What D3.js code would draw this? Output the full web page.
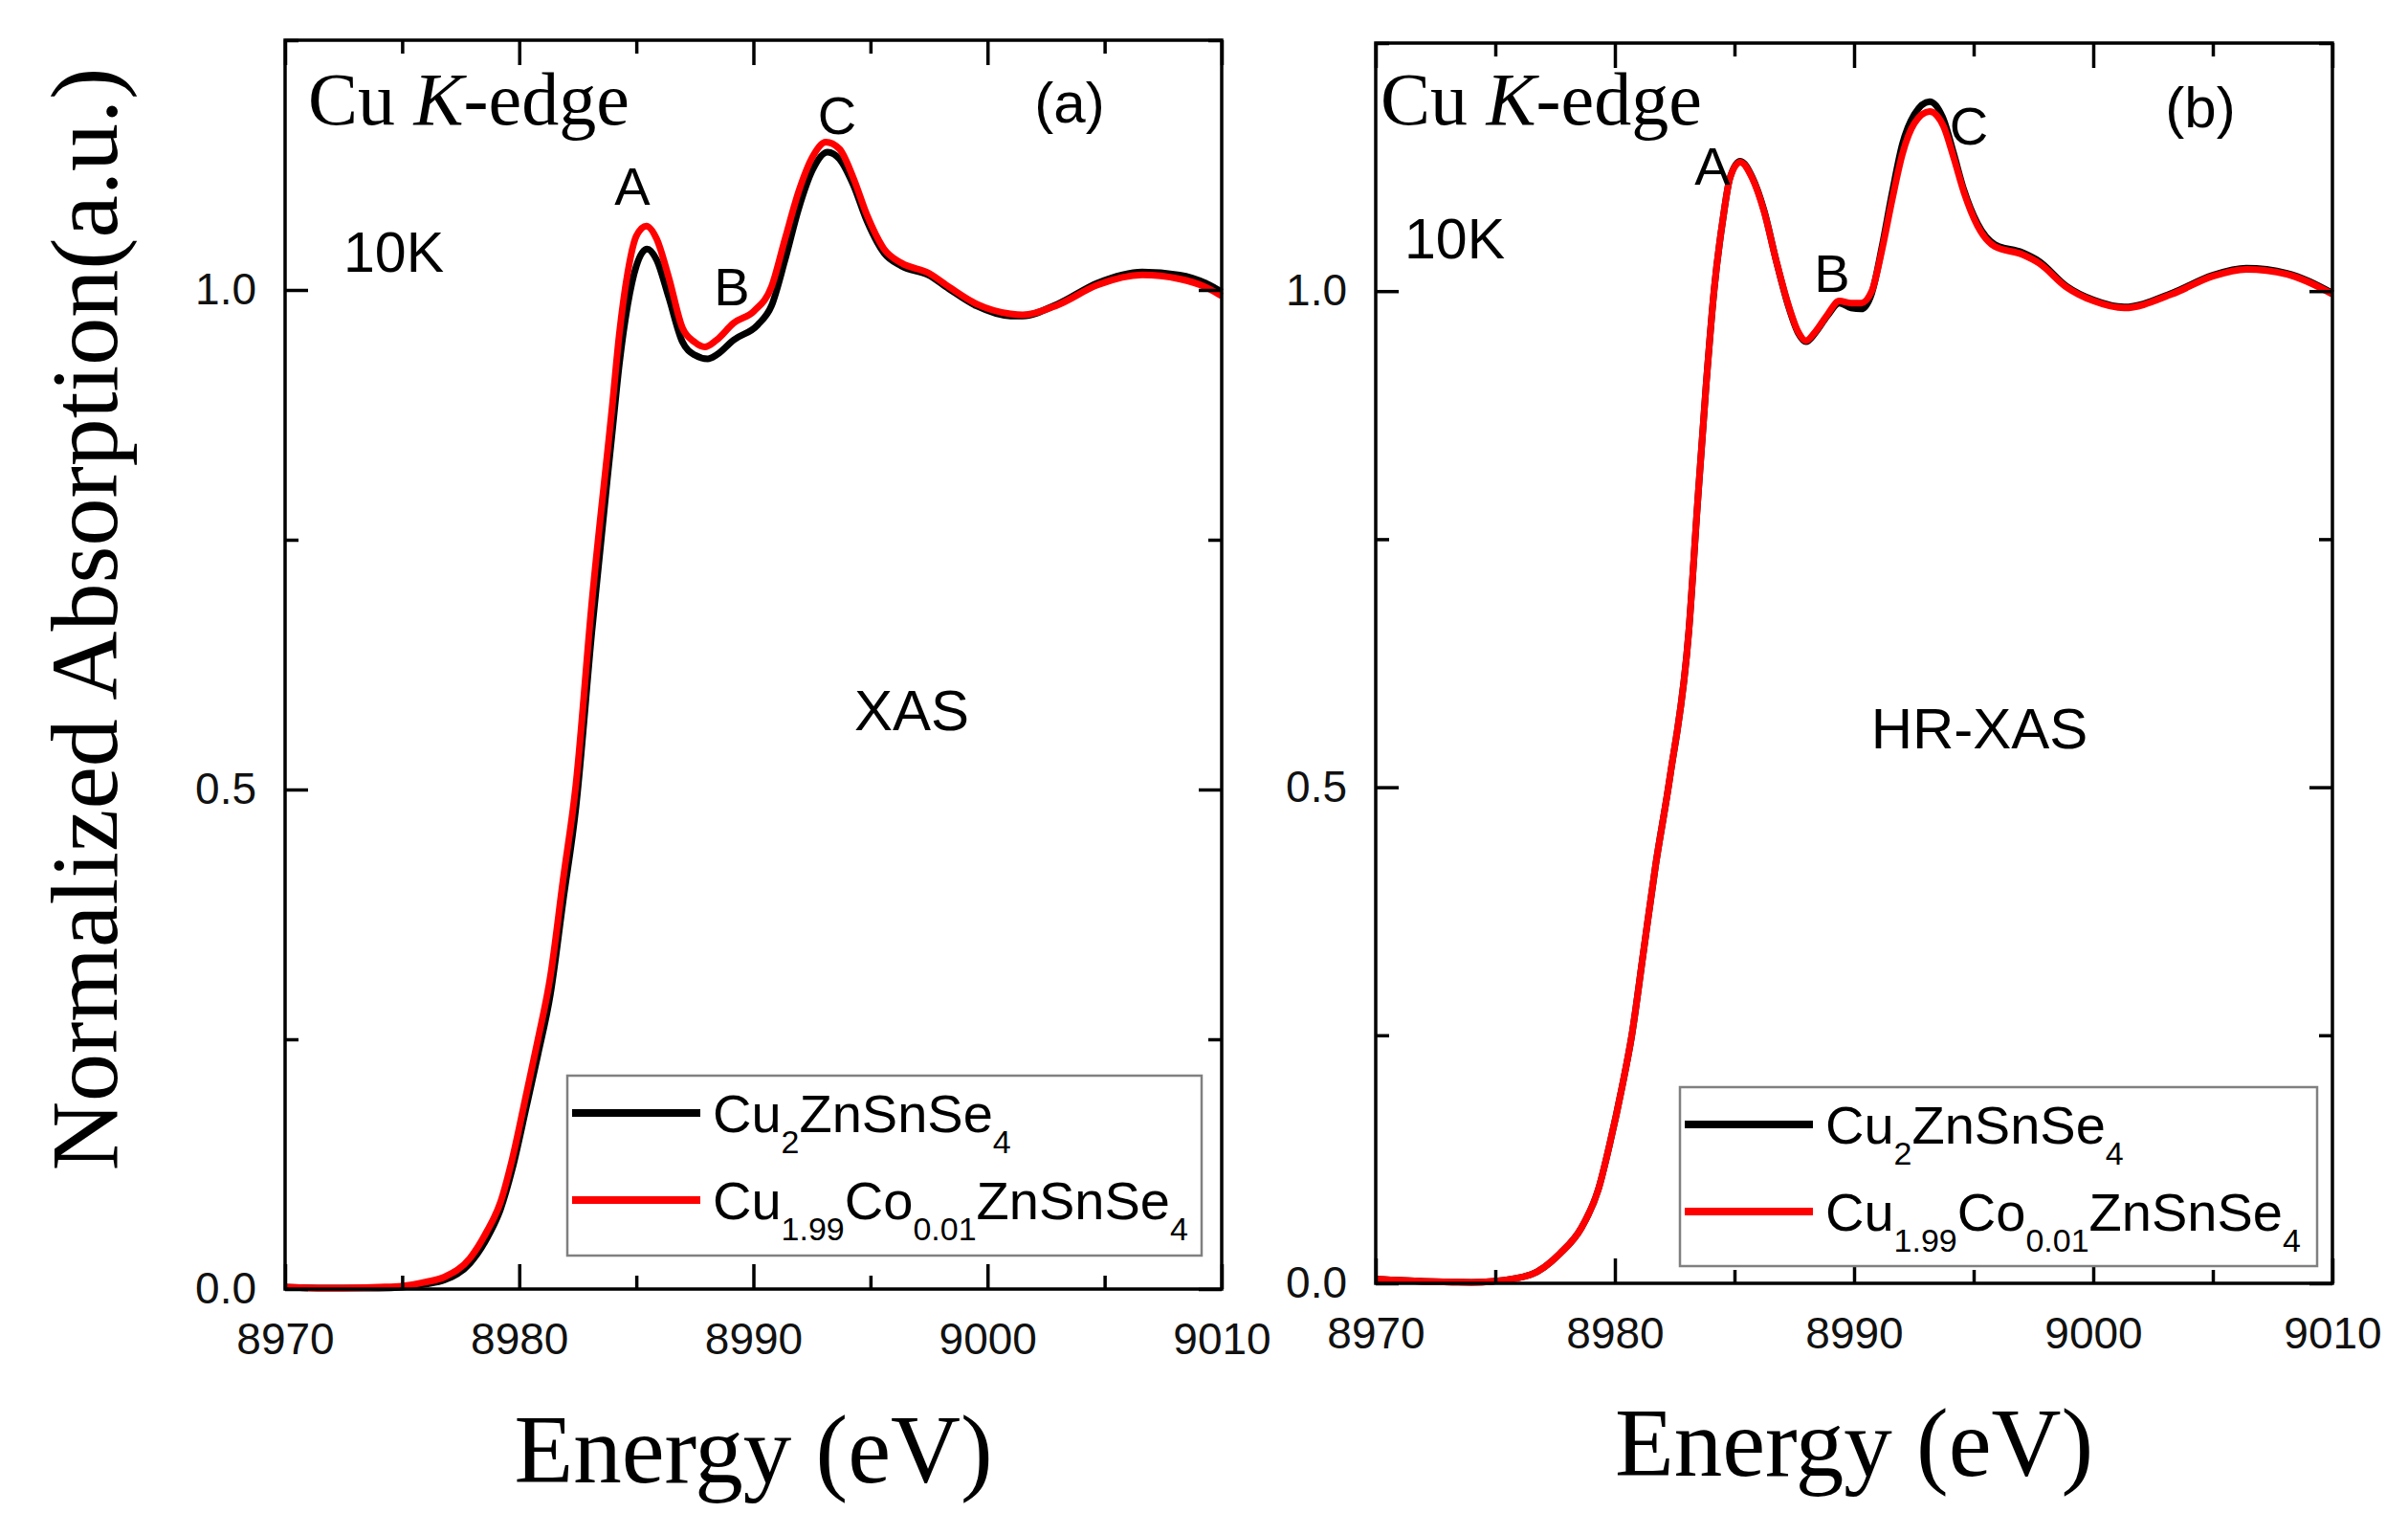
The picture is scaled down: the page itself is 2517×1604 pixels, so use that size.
<!DOCTYPE html>
<html>
<head>
<meta charset="utf-8">
<script src="https://cdn.jsdelivr.net/npm/d3@7"></script>
<style>
  html, body { margin: 0; padding: 0; background: #fff; }
  svg { display: block; }
  .sans { font-family: "Liberation Sans", Arial, sans-serif; }
  .serif { font-family: "Liberation Serif", "Times New Roman", serif; }
</style>
</head>
<body>
<svg id="chart" width="2517" height="1604"></svg>
<script>
// ---- data: [energy (eV), normalized absorption] ----
const xTicks = [8970, 8980, 8990, 9000, 9010];
const xMinorTicks = [8975, 8985, 8995, 9005];
const yTicks = [0.0, 0.5, 1.0];
const yMinorTicks = [0.25, 0.75, 1.25];
const seriesNames = ['Cu2ZnSnSe4', 'Cu1.99Co0.01ZnSnSe4'];

// panel (a) XAS
const xasCZTSe = [
  [8970, 0.002], [8972, 0.001], [8974, 0.001], [8975, 0.002], [8976, 0.005], [8976.8, 0.009],
  [8977.9, 0.026], [8978.6, 0.050], [8979.2, 0.080], [8979.7, 0.120], [8980.3, 0.182],
  [8980.8, 0.235], [8981.33, 0.295], [8981.87, 0.388], [8982.42, 0.482], [8983.1, 0.658],
  [8983.99, 0.862], [8984.27, 0.925], [8984.63, 0.985], [8985.0, 1.024],
  [8985.46, 1.041], [8985.87, 1.030], [8986.38, 0.993], [8986.97, 0.948], [8987.48, 0.935],
  [8988.05, 0.931], [8988.43, 0.935], [8989.16, 0.950], [8990.18, 0.965], [8990.77, 0.984],
  [8991.35, 1.030], [8991.94, 1.082], [8992.52, 1.120], [8993.17, 1.138], [8993.68, 1.131],
  [8994.27, 1.105], [8994.85, 1.069], [8995.58, 1.037], [8996.32, 1.024], [8997.48, 1.015],
  [8998.36, 1.001], [8999.53, 0.984], [9000.98, 0.974], [9001.5, 0.974], [9003.0, 0.986],
  [9004.7, 1.007], [9006.6, 1.018], [9008.2, 1.015], [9009.3, 1.007], [9010, 0.998],
];
const xasCoDoped = [
  [8970, 0.002], [8972, 0.001], [8974, 0.002], [8975, 0.003], [8976, 0.007], [8976.8, 0.012],
  [8977.9, 0.031], [8978.6, 0.057], [8979.2, 0.087], [8979.7, 0.130], [8980.3, 0.195],
  [8980.8, 0.250], [8981.33, 0.313], [8981.87, 0.409], [8982.42, 0.505], [8983.1, 0.687],
  [8983.99, 0.888], [8984.27, 0.955], [8984.63, 1.017], [8985.0, 1.054],
  [8985.43, 1.064], [8985.87, 1.051], [8986.38, 1.013], [8986.97, 0.962], [8987.48, 0.948],
  [8987.92, 0.943], [8988.43, 0.950], [8989.16, 0.967], [8990.03, 0.979], [8990.77, 1.003],
  [8991.35, 1.051], [8991.94, 1.099], [8992.52, 1.133], [8993.1, 1.148], [8993.68, 1.141],
  [8994.27, 1.112], [8994.85, 1.075], [8995.58, 1.041], [8996.32, 1.027], [8997.48, 1.017],
  [8998.36, 1.003], [8999.53, 0.986], [9000.98, 0.976], [9001.5, 0.975], [9003.0, 0.985],
  [9004.7, 1.005], [9006.6, 1.015], [9008.2, 1.011], [9009.3, 1.003], [9010, 0.994],
];

// panel (b) HR-XAS
const hrxasCZTSe = [
  [8970, 0.004], [8972, 0.002], [8974, 0.001], [8974.9, 0.002], [8976.5, 0.009], [8977.7, 0.030],
  [8978.6, 0.056], [8979.3, 0.094], [8979.8, 0.142], [8980.3, 0.198], [8980.7, 0.249],
  [8981.2, 0.335], [8981.7, 0.421], [8982.3, 0.510], [8983.09, 0.657], [8983.45, 0.784],
  [8983.81, 0.904], [8984.16, 1.004], [8984.52, 1.073], [8984.81, 1.114], [8985.24, 1.131],
  [8985.74, 1.115], [8986.24, 1.081], [8986.74, 1.031], [8987.24, 0.986], [8987.66, 0.958],
  [8987.99, 0.949], [8988.38, 0.958], [8988.88, 0.975], [8989.38, 0.988], [8989.88, 0.983],
  [8990.3, 0.982], [8990.74, 0.998], [8991.17, 1.045], [8991.6, 1.100], [8992.02, 1.148],
  [8992.52, 1.178], [8993.16, 1.191], [8993.74, 1.173], [8994.16, 1.139], [8994.59, 1.102],
  [8995.16, 1.068], [8995.88, 1.047], [8997.02, 1.039], [8997.74, 1.030], [8998.88, 1.005],
  [9000.02, 0.991], [9001.3, 0.984], [9003.3, 0.998], [9005.0, 1.016], [9006.4, 1.023],
  [9008.1, 1.018], [9010, 0.998],
];
const hrxasCoDoped = [
  [8970, 0.004], [8972, 0.002], [8974, 0.001], [8974.9, 0.002], [8976.5, 0.009], [8977.7, 0.030],
  [8978.6, 0.056], [8979.3, 0.094], [8979.8, 0.142], [8980.3, 0.198], [8980.7, 0.249],
  [8981.2, 0.335], [8981.7, 0.421], [8982.3, 0.510], [8983.09, 0.657], [8983.45, 0.784],
  [8983.81, 0.904], [8984.16, 1.004], [8984.52, 1.073], [8984.81, 1.114], [8985.24, 1.130],
  [8985.74, 1.114], [8986.24, 1.080], [8986.74, 1.031], [8987.24, 0.987], [8987.66, 0.959],
  [8987.99, 0.950], [8988.38, 0.959], [8988.88, 0.976], [8989.38, 0.990], [8989.88, 0.988],
  [8990.3, 0.988], [8990.74, 1.000], [8991.17, 1.042], [8991.6, 1.093], [8992.02, 1.138],
  [8992.52, 1.169], [8993.16, 1.181], [8993.74, 1.166], [8994.16, 1.135], [8994.59, 1.100],
  [8995.16, 1.066], [8995.88, 1.045], [8997.02, 1.037], [8997.74, 1.028], [8998.88, 1.004],
  [9000.02, 0.990], [9001.3, 0.983], [9003.3, 0.997], [9005.0, 1.015], [9006.4, 1.022],
  [9008.1, 1.017], [9010, 0.997],
];

const COLORS = { black: '#000000', red: '#ff0000' };

const panels = [
  {
    box: { x0: 298, x1: 1277, y0: 42, y1: 1347 },
    series: [xasCZTSe, xasCoDoped],
    tag: '(a)', tagPos: [1118, 128],
    tempPos: [359, 284],
    method: 'XAS', methodPos: [953, 763],
    peaks: [['A', 661, 214], ['B', 765, 319], ['C', 875, 140]],
    legend: { x: 593, y: 1124, w: 663, h: 188 },
    xTitleY: 1549,
    yTitle: true,
  },
  {
    box: { x0: 1438, x1: 2438, y0: 45, y1: 1341 },
    series: [hrxasCZTSe, hrxasCoDoped],
    tag: '(b)', tagPos: [2300, 133],
    tempPos: [1468, 270],
    method: 'HR-XAS', methodPos: [2069, 782],
    peaks: [['A', 1790, 193], ['B', 1915, 305], ['C', 2058, 151]],
    legend: { x: 1756, y: 1136, w: 666, h: 187 },
    xTitleY: 1542,
    yTitle: false,
  },
];

const svg = d3.select('#chart');

function styleAxis(g) {
  g.select('.domain').remove();
  g.selectAll('.tick line').attr('stroke', '#000').attr('stroke-width', 3.5);
  g.selectAll('.tick text')
    .attr('class', 'sans')
    .attr('font-size', 46)
    .attr('fill', '#111');
}

// chemical formula with subscripts, parts: [text, isSub]
function formula(sel, parts) {
  parts.forEach(([t, sub], i) => {
    const prevSub = i > 0 && parts[i - 1][1];
    const ts = sel.append('tspan').text(t).attr('font-size', sub ? 34 : 56);
    if (sub && !prevSub) ts.attr('dy', 22);
    if (!sub && prevSub) ts.attr('dy', -22);
  });
}

const legendParts = [
  [['Cu', false], ['2', true], ['ZnSnSe', false], ['4', true]],
  [['Cu', false], ['1.99', true], ['Co', false], ['0.01', true], ['ZnSnSe', false], ['4', true]],
];

panels.forEach((p) => {
  const { x0, x1, y0, y1 } = p.box;
  const x = d3.scaleLinear().domain([8970, 9010]).range([x0, x1]);
  const y = d3.scaleLinear().domain([0, 1.25]).range([y1, y0]);
  const g = svg.append('g');

  // curves: black first, red on top
  const line = d3.line()
    .x((d) => x(d[0]))
    .y((d) => y(d[1]))
    .curve(d3.curveMonotoneX);
  [COLORS.black, COLORS.red].forEach((c, i) => {
    g.append('path')
      .datum(p.series[i])
      .attr('fill', 'none')
      .attr('stroke', c)
      .attr('stroke-width', 7)
      .attr('stroke-linejoin', 'round')
      .attr('d', line);
  });

  // ticks (inward, mirrored on all sides)
  g.append('g').attr('transform', `translate(0,${y1})`)
    .call(d3.axisBottom(x).tickValues(xTicks).tickSizeInner(-26).tickSizeOuter(0)
      .tickPadding(35).tickFormat(d3.format('d')))
    .call(styleAxis);
  g.append('g').attr('transform', `translate(0,${y1})`)
    .call(d3.axisBottom(x).tickValues(xMinorTicks).tickSize(-14).tickFormat(''))
    .call(styleAxis);
  g.append('g').attr('transform', `translate(0,${y0})`)
    .call(d3.axisTop(x).tickValues(xTicks).tickSize(-26).tickFormat(''))
    .call(styleAxis);
  g.append('g').attr('transform', `translate(0,${y0})`)
    .call(d3.axisTop(x).tickValues(xMinorTicks).tickSize(-14).tickFormat(''))
    .call(styleAxis);
  g.append('g').attr('transform', `translate(${x0},0)`)
    .call(d3.axisLeft(y).tickValues(yTicks).tickSizeInner(-24).tickSizeOuter(0)
      .tickPadding(30).tickFormat(d3.format('.1f')))
    .call(styleAxis);
  g.append('g').attr('transform', `translate(${x0},0)`)
    .call(d3.axisLeft(y).tickValues(yMinorTicks).tickSize(-14).tickFormat(''))
    .call(styleAxis);
  g.append('g').attr('transform', `translate(${x1},0)`)
    .call(d3.axisRight(y).tickValues(yTicks).tickSize(-24).tickFormat(''))
    .call(styleAxis);
  g.append('g').attr('transform', `translate(${x1},0)`)
    .call(d3.axisRight(y).tickValues(yMinorTicks).tickSize(-14).tickFormat(''))
    .call(styleAxis);

  g.append('rect')
    .attr('x', x0).attr('y', y0)
    .attr('width', x1 - x0).attr('height', y1 - y0)
    .attr('fill', 'none').attr('stroke', '#000').attr('stroke-width', 3.5);

  // annotations
  const edge = g.append('text').attr('class', 'serif')
    .attr('x', x0 + (p.yTitle ? 24 : 5)).attr('y', 130)
    .attr('font-size', 78).attr('fill', '#000');
  edge.append('tspan').text('Cu ');
  edge.append('tspan').attr('font-style', 'italic').text('K');
  edge.append('tspan').text('-edge');

  g.append('text').attr('class', 'sans')
    .attr('x', p.tagPos[0]).attr('y', p.tagPos[1])
    .attr('text-anchor', 'middle').attr('font-size', 60).text(p.tag);
  g.append('text').attr('class', 'sans')
    .attr('x', p.tempPos[0]).attr('y', p.tempPos[1])
    .attr('font-size', 59).text('10K');
  g.append('text').attr('class', 'sans')
    .attr('x', p.methodPos[0]).attr('y', p.methodPos[1])
    .attr('text-anchor', 'middle').attr('font-size', 60).text(p.method);
  p.peaks.forEach(([t, px, py]) => {
    g.append('text').attr('class', 'sans')
      .attr('x', px).attr('y', py)
      .attr('text-anchor', 'middle').attr('font-size', 56).text(t);
  });

  // legend
  const L = p.legend;
  const lg = g.append('g').attr('transform', `translate(${L.x},${L.y})`);
  lg.append('rect').attr('width', L.w).attr('height', L.h)
    .attr('fill', '#fff').attr('stroke', '#808080').attr('stroke-width', 2.5);
  [COLORS.black, COLORS.red].forEach((c, i) => {
    const ly = i === 0 ? 39 : 130;
    lg.append('line')
      .attr('x1', 5).attr('x2', 139).attr('y1', ly).attr('y2', ly)
      .attr('stroke', c).attr('stroke-width', 8);
    const t = lg.append('text').attr('class', 'sans')
      .attr('x', 152).attr('y', ly + 20).attr('fill', '#000')
      .attr('aria-label', seriesNames[i]);
    formula(t, legendParts[i]);
  });

  // axis titles
  g.append('text').attr('class', 'serif')
    .attr('x', (x0 + x1) / 2).attr('y', p.xTitleY)
    .attr('text-anchor', 'middle').attr('font-size', 101)
    .text('Energy (eV)');
  if (p.yTitle) {
    g.append('text').attr('class', 'serif')
      .attr('transform', 'translate(122,647) rotate(-90)')
      .attr('text-anchor', 'middle').attr('font-size', 100)
      .text('Normalized Absorption(a.u.)');
  }
});
</script>
</body>
</html>
